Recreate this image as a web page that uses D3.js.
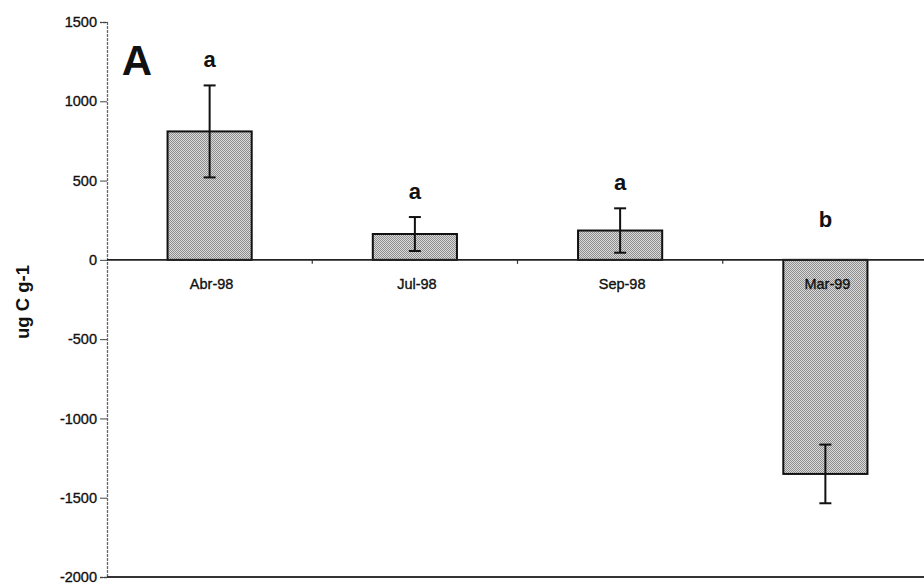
<!DOCTYPE html>
<html>
<head>
  <meta charset="utf-8" />
  <title>ug C g-1</title>
  <script src="https://cdn.jsdelivr.net/npm/d3@7"></script>
  <style>
    body { margin: 0; background: white; }
    svg text { font-family: "Liberation Sans", Arial, sans-serif; }
  </style>
</head>
<body>
  <svg id="chart" width="924" height="584"></svg>
  <script>
    // data
    var months = ["Abr-98", "Jul-98", "Sep-98", "Mar-99"];
    var means = [810, 163, 185, -1350];
    var errors = [290, 107, 140, 185];
    var letters = ["a", "a", "a", "b"];
    var yTicks = [-2000, -1500, -1000, -500, 0, 500, 1000, 1500];

    var svg = d3.select("#chart");

    var x = d3.scaleBand()
      .domain(months)
      .range([107, 928])
      .paddingInner(0.59)
      .paddingOuter(0.295);

    var y = d3.scaleLinear()
      .domain([-2000, 1500])
      .range([577, 22]);

    // dithered grey fill like the scan
    var pat = svg.append("defs").append("pattern")
      .attr("id", "dots")
      .attr("width", 2).attr("height", 2)
      .attr("patternUnits", "userSpaceOnUse");
    pat.append("rect").attr("width", 2).attr("height", 2).attr("fill", "#dadada");
    pat.append("rect").attr("width", 1).attr("height", 1).attr("fill", "#8e8e8e");
    pat.append("rect").attr("x", 1).attr("y", 1).attr("width", 1).attr("height", 1).attr("fill", "#8e8e8e");

    // y axis
    var yAxis = d3.axisLeft(y)
      .tickValues(yTicks)
      .tickSize(7)
      .tickPadding(3)
      .tickFormat(function(d) { return String(d); });

    var gy = svg.append("g")
      .attr("transform", "translate(" + x.range()[0] + ",0)")
      .call(yAxis);
    gy.select(".domain")
      .attr("stroke", "#666")
      .attr("stroke-width", 1.3)
      .attr("stroke-dasharray", "3,1");
    gy.selectAll(".tick line").attr("stroke", "#444");
    gy.selectAll(".tick text")
      .attr("font-size", 14.5)
      .attr("fill", "#111")
      .attr("stroke", "#111")
      .attr("stroke-width", 0.35)
      .attr("font-family", "Liberation Sans, Arial, sans-serif");

    // bottom frame line
    svg.append("line")
      .attr("x1", x.range()[0]).attr("x2", 924)
      .attr("y1", y(-2000)).attr("y2", y(-2000))
      .attr("stroke", "#333").attr("stroke-width", 2);

    // bars
    svg.selectAll("rect.bar")
      .data(months)
      .enter().append("rect")
      .attr("class", "bar")
      .attr("x", function(d) { return x(d); })
      .attr("width", x.bandwidth())
      .attr("y", function(d, i) { return y(Math.max(means[i], 0)); })
      .attr("height", function(d, i) { return Math.abs(y(means[i]) - y(0)); })
      .attr("fill", "url(#dots)")
      .attr("stroke", "#111")
      .attr("stroke-width", 2);

    // zero line with category ticks
    svg.append("line")
      .attr("x1", x.range()[0]).attr("x2", 924)
      .attr("y1", y(0)).attr("y2", y(0))
      .attr("stroke", "#222").attr("stroke-width", 1.6);

    svg.selectAll("line.cat")
      .data(months.slice(1))
      .enter().append("line")
      .attr("class", "cat")
      .attr("x1", function(d) { return x(d) - x.step() * x.paddingInner() / 2; })
      .attr("x2", function(d) { return x(d) - x.step() * x.paddingInner() / 2; })
      .attr("y1", y(0)).attr("y2", y(0) + 4)
      .attr("stroke", "#333").attr("stroke-width", 1.2);

    // error bars
    var eb = svg.selectAll("g.err")
      .data(months)
      .enter().append("g")
      .attr("class", "err")
      .attr("stroke", "#111")
      .attr("stroke-width", 2);
    function cx(d) { return x(d) + x.bandwidth() / 2; }
    eb.append("line")
      .attr("x1", cx).attr("x2", cx)
      .attr("y1", function(d, i) { return y(means[i] + errors[i]); })
      .attr("y2", function(d, i) { return y(means[i] - errors[i]); });
    eb.append("line")
      .attr("x1", function(d) { return cx(d) - 6; })
      .attr("x2", function(d) { return cx(d) + 6; })
      .attr("y1", function(d, i) { return y(means[i] + errors[i]); })
      .attr("y2", function(d, i) { return y(means[i] + errors[i]); });
    eb.append("line")
      .attr("x1", function(d) { return cx(d) - 6; })
      .attr("x2", function(d) { return cx(d) + 6; })
      .attr("y1", function(d, i) { return y(means[i] - errors[i]); })
      .attr("y2", function(d, i) { return y(means[i] - errors[i]); });

    // category labels just under the zero line
    svg.selectAll("text.month")
      .data(months)
      .enter().append("text")
      .attr("class", "month")
      .attr("x", function(d) { return cx(d) + 2; })
      .attr("y", y(0) + 29)
      .attr("text-anchor", "middle")
      .attr("font-size", 14.5)
      .attr("fill", "#111")
      .attr("stroke", "#111")
      .attr("stroke-width", 0.35)
      .text(function(d) { return d; });

    // significance letters
    svg.selectAll("text.sig")
      .data(months)
      .enter().append("text")
      .attr("class", "sig")
      .attr("x", cx)
      .attr("y", function(d, i) {
        return y(Math.max(means[i] + errors[i], 0)) - (means[i] < 0 ? 33 : 18);
      })
      .attr("text-anchor", "middle")
      .attr("font-size", 22)
      .attr("font-weight", "bold")
      .attr("fill", "#111")
      .text(function(d, i) { return letters[i]; });

    // panel letter
    svg.append("text")
      .attr("x", 137).attr("y", 75)
      .attr("text-anchor", "middle")
      .attr("font-size", 42)
      .attr("font-weight", "bold")
      .attr("fill", "#111")
      .text("A");

    // y axis title
    svg.append("text")
      .attr("transform", "translate(29,302) rotate(-90)")
      .attr("text-anchor", "middle")
      .attr("font-size", 18.5)
      .attr("font-weight", "bold")
      .attr("fill", "#111")
      .text("ug C g-1");
  </script>
</body>
</html>
